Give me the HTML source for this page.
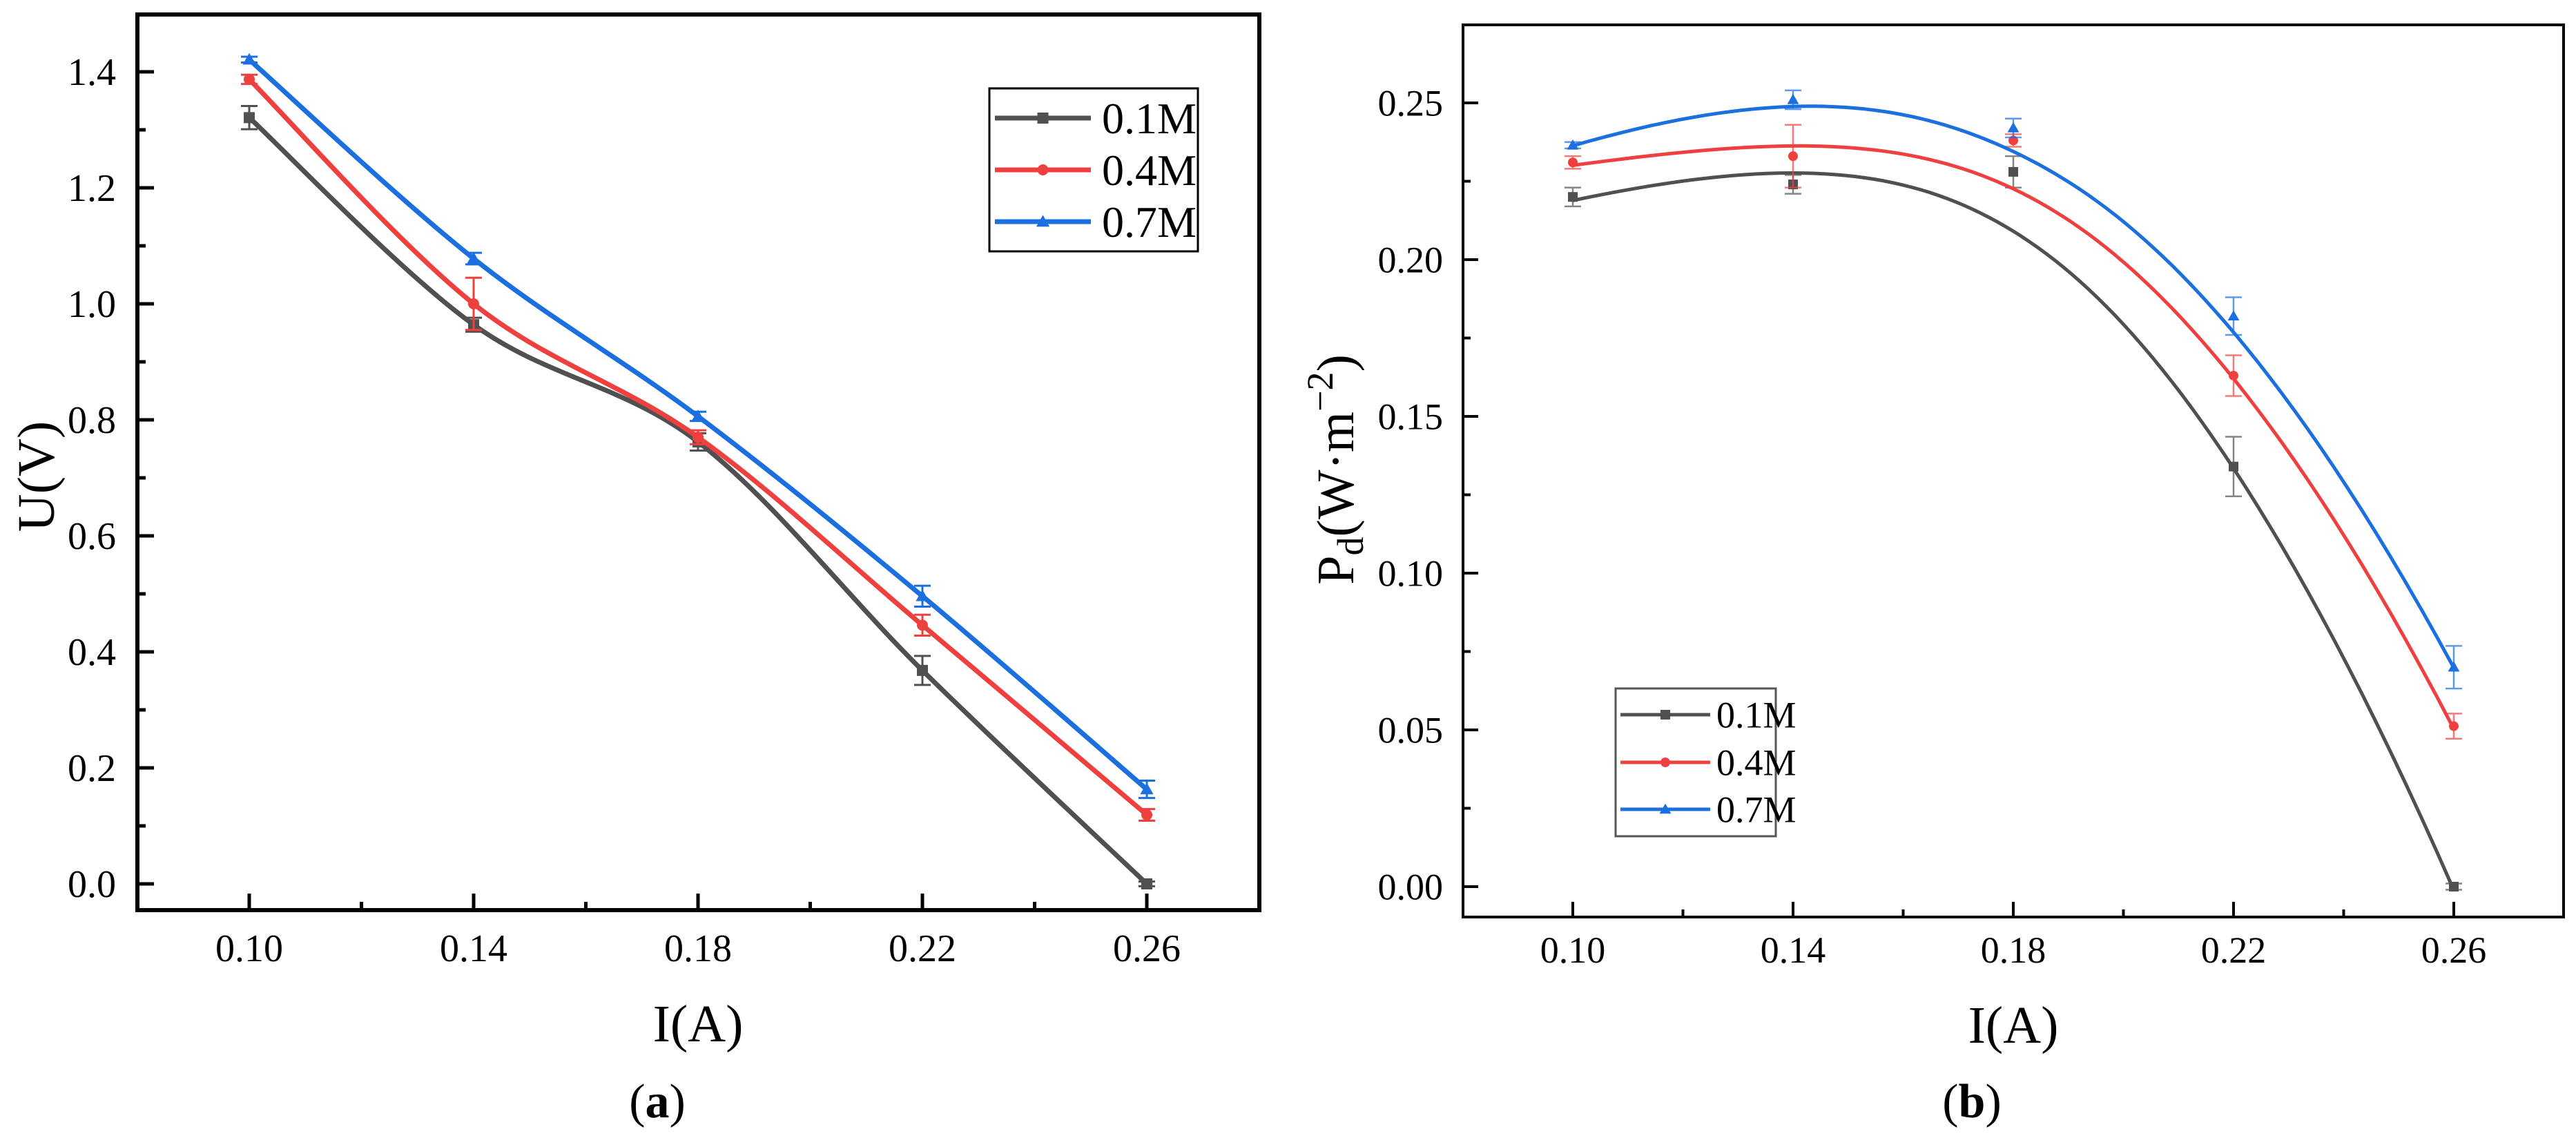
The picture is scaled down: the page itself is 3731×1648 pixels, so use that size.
<!DOCTYPE html>
<html><head><meta charset="utf-8">
<style>
html,body{margin:0;padding:0;background:#fff;}
svg, svg text, svg tspan{font-family:"Liberation Serif",serif !important;}
svg{display:block;}
</style></head>
<body>
<svg id="fig" width="3731" height="1648" viewBox="0 0 3731 1648" xmlns="http://www.w3.org/2000/svg">
  <rect width="3731" height="1648" fill="#fff"/>
  <g id="chartA"></g>
  <g id="chartB"></g>
  <text x="1011" y="1508" font-size="76" text-anchor="middle">I(A)</text>
  <text x="952" y="1618" font-size="70" text-anchor="middle">(<tspan font-weight="bold">a</tspan>)</text>
  <text transform="translate(78,690) rotate(-90)" font-size="76" text-anchor="middle">U(V)</text>
  <text x="2916" y="1510" font-size="76" text-anchor="middle">I(A)</text>
  <text x="2856" y="1618" font-size="70" text-anchor="middle">(<tspan font-weight="bold">b</tspan>)</text>
  <text transform="translate(1960,680) rotate(-90)" font-size="76" text-anchor="middle">P<tspan font-size="54" dy="14">d</tspan><tspan dy="-14">(W·m</tspan><tspan font-size="54" dy="-30">−2</tspan><tspan dy="30">)</tspan></text>
</svg>
<script>
const NS="http://www.w3.org/2000/svg";
const categories=[0.10,0.14,0.18,0.22,0.26];
const seriesNames=["0.1M","0.4M","0.7M"];
const seriesColors=["#505050","#ef4040","#1b6fde"];
// Panel (a) U(V)
const uBlack=[1.321,0.964,0.762,0.368,0.0];
const uRed=[1.387,1.000,0.770,0.446,0.119];
const uBlue=[1.421,1.078,0.806,0.496,0.163];
const uErrBlack=[0.02,0.012,0.015,0.025,0.004];
const uErrRed=[0.008,0.045,0.012,0.018,0.01];
const uErrBlue=[0.005,0.01,0.008,0.018,0.015];
const uTicks=["0.0","0.2","0.4","0.6","0.8","1.0","1.2","1.4"];
// Panel (b) Pd
const pBlack=[0.220,0.224,0.228,0.134,0.0];
const pRed=[0.231,0.233,0.238,0.163,0.0512];
const pBlue=[0.2365,0.251,0.242,0.182,0.070];
const pErrBlack=[0.003,0.003,0.005,0.0095,0.001];
const pErrRed=[0.002,0.010,0.002,0.0065,0.004];
const pErrBlue=[0.001,0.003,0.003,0.006,0.0068];
const pTicks=["0.00","0.05","0.10","0.15","0.20","0.25"];
const xTicks=["0.10","0.14","0.18","0.22","0.26"];
const SERIF="font-family:'Liberation Serif',serif";

function el(tag,attrs,parent){const e=document.createElementNS(NS,tag);for(const k in attrs)e.setAttribute(k,attrs[k]);parent.appendChild(e);return e;}

function marker(g,kind,cx,cy,s,color){
  let m;
  if(kind===0)m=el("rect",{x:cx-s/2,y:cy-s/2,width:s,height:s,fill:color},g);
  else if(kind===1)m=el("circle",{cx:cx,cy:cy,r:s/2,fill:color},g);
  else m=el("polygon",{points:`${cx},${cy-s*0.6} ${cx-s*0.6},${cy+s*0.45} ${cx+s*0.6},${cy+s*0.45}`,fill:color},g);
  return m;
}

function catmull(pts){
  let d=`M${pts[0][0]},${pts[0][1]}`;
  for(let i=0;i<pts.length-1;i++){
    const p0=pts[Math.max(0,i-1)],p1=pts[i],p2=pts[i+1],p3=pts[Math.min(pts.length-1,i+2)];
    const c1=[p1[0]+(p2[0]-p0[0])/6,p1[1]+(p2[1]-p0[1])/6];
    const c2=[p2[0]-(p3[0]-p1[0])/6,p2[1]-(p3[1]-p1[1])/6];
    d+=` C${c1[0]},${c1[1]} ${c2[0]},${c2[1]} ${p2[0]},${p2[1]}`;
  }
  return d;
}

function polyfit(xs,ys,deg){
  const n=deg+1;const A=[];const b=[];
  for(let i=0;i<n;i++){A.push(new Array(n).fill(0));b.push(0);}
  for(let k=0;k<xs.length;k++){
    for(let i=0;i<n;i++){b[i]+=ys[k]*Math.pow(xs[k],i);for(let j=0;j<n;j++)A[i][j]+=Math.pow(xs[k],i+j);}
  }
  for(let i=0;i<n;i++){let p=i;for(let r=i+1;r<n;r++)if(Math.abs(A[r][i])>Math.abs(A[p][i]))p=r;
    [A[i],A[p]]=[A[p],A[i]];[b[i],b[p]]=[b[p],b[i]];
    for(let r=i+1;r<n;r++){const f=A[r][i]/A[i][i];for(let c=i;c<n;c++)A[r][c]-=f*A[i][c];b[r]-=f*b[i];}}
  const c=new Array(n).fill(0);
  for(let i=n-1;i>=0;i--){let s=b[i];for(let j=i+1;j<n;j++)s-=A[i][j]*c[j];c[i]=s/A[i][i];}
  return c;
}

function bspline(vals,u){
  const knots=[0,0,0,0,1,2,2,2,2];
  function N(i,k,t){
    if(k===0){ if(t===2) return (knots[i]<2&&knots[i+1]===2)?1:0; return (t>=knots[i]&&t<knots[i+1])?1:0;}
    let a=0,b=0;
    const d1=knots[i+k]-knots[i], d2=knots[i+k+1]-knots[i+1];
    if(d1>0)a=(t-knots[i])/d1*N(i,k-1,t);
    if(d2>0)b=(knots[i+k+1]-t)/d2*N(i+1,k-1,t);
    return a+b;
  }
  let s=0;for(let i=0;i<5;i++)s+=vals[i]*N(i,3,u);return s;
}

function txt(parent,attrs,content){
  const t=el("text",attrs,parent);
  t.setAttribute("style",SERIF);
  t.textContent=content;
  return t;
}

function drawPanel(cfg){
  const g=document.getElementById(cfg.id);
  const X=v=>cfg.x0+(v-0.10)/0.04*cfg.xStep;
  const Y=v=>cfg.y0-v*cfg.yScale;
  for(let i=0;i<xTicks.length;i++){
    const v=0.10+0.04*i;const x=X(v);
    const t=el("line",{x1:x,x2:x,y1:cfg.bottom,y2:cfg.bottom-cfg.tickMaj,stroke:"#000","stroke-width":cfg.tw},g);
    
    const lb=txt(g,{x:x,y:cfg.xLabY,"font-size":cfg.fs,"text-anchor":"middle"},xTicks[i]);
    
    if(i<xTicks.length-1){const xm=X(v+0.02);
      const tm=el("line",{x1:xm,x2:xm,y1:cfg.bottom,y2:cfg.bottom-cfg.tickMin,stroke:"#000","stroke-width":cfg.tw},g);
      }
  }
  for(let i=0;i<cfg.yTicks.length;i++){
    const v=parseFloat(cfg.yTicks[i]);const y=Y(v);
    const t=el("line",{x1:cfg.left,x2:cfg.left+cfg.tickMaj,y1:y,y2:y,stroke:"#000","stroke-width":cfg.tw},g);
    
    const lb=txt(g,{x:cfg.yLabX,y:y+cfg.fs*0.34,"font-size":cfg.fs,"text-anchor":"end"},cfg.yTicks[i]);
    
    if(i<cfg.yTicks.length-1){const ym=Y(v+cfg.yStep/2);
      const tm=el("line",{x1:cfg.left,x2:cfg.left+cfg.tickMin,y1:ym,y2:ym,stroke:"#000","stroke-width":cfg.tw},g);
      }
  }
  cfg.series.forEach((s,si)=>{
    const sg=el("g",{},g);
    
    
    let d;
    if(cfg.fit){
      const c=polyfit(categories.map(v=>(v-0.18)*10),s.v,3);
      const pts=[];
      for(let k=0;k<=80;k++){
        const u=2*k/80;
        const v=bspline(categories,u);
        const yb=bspline(s.v,u);
        const w=(v-0.18)*10;let yp=0;for(let j=0;j<c.length;j++)yp+=c[j]*Math.pow(w,j);
        pts.push([X(v),Y((yb+yp)/2)]);
      }
      d="M"+pts.map(p=>p[0].toFixed(1)+","+p[1].toFixed(1)).join(" L");
    } else d=catmull(categories.map((v,k)=>[X(v),Y(s.v[k])]));
    const ln=el("path",{d:d,fill:"none",stroke:seriesColors[si],"stroke-width":cfg.lw,"stroke-linejoin":"round"},sg);
    
    categories.forEach((v,k)=>{
      const x=X(v),y1=Y(s.v[k]+s.e[k]),y2=Y(s.v[k]-s.e[k]);
      const eb=el("path",{d:`M${x-cfg.cap},${y1} H${x+cfg.cap} M${x},${y1} V${y2} M${x-cfg.cap},${y2} H${x+cfg.cap}`,stroke:seriesColors[si],"stroke-width":cfg.ew,fill:"none",opacity:cfg.eo},sg);
      
      const m=marker(sg,si,x,Y(s.v[k]),cfg.ms,seriesColors[si]);
      
    });
  });
  const fr=el("rect",{x:cfg.left,y:cfg.top,width:cfg.right-cfg.left,height:cfg.bottom-cfg.top,fill:"none",stroke:"#000","stroke-width":cfg.fw},g);
  
  const L=cfg.leg;
  const lg=el("g",{},g);
  
  el("rect",{x:L.x,y:L.y,width:L.w,height:L.h,fill:"#fff",stroke:cfg.legStroke,"stroke-width":L.sw},lg);
  seriesNames.forEach((n,si)=>{
    const ey=L.rows[si];
    const eg=el("g",{},lg);
    
    el("line",{x1:L.lx1,x2:L.lx2,y1:ey,y2:ey,stroke:seriesColors[si],"stroke-width":cfg.lw},eg);
    marker(eg,si,(L.lx1+L.lx2)/2,ey,cfg.ms,seriesColors[si]);
    txt(eg,{x:L.tx,y:ey+L.fs*0.34,"font-size":L.fs},n);
  });
}

drawPanel({id:"chartA",left:199,right:1824,top:21,bottom:1318,x0:361,xStep:325,y0:1280,yScale:840,yStep:0.2,
  yTicks:uTicks,xLabY:1392,yLabX:168,fs:56,tw:5,fw:6,tickMaj:24,tickMin:12,lw:7,ew:3,cap:12,eo:1,ms:16,fit:false,
  series:[{v:uBlack,e:uErrBlack},{v:uRed,e:uErrRed},{v:uBlue,e:uErrBlue}],legStroke:"#000",
  leg:{x:1433,y:128,w:302,h:236,sw:3,lx1:1441,lx2:1580,tx:1596,fs:64,rows:[171,246,321]}});
drawPanel({id:"chartB",left:2119,right:3713,top:36,bottom:1328,x0:2278,xStep:319,y0:1284,yScale:4540,yStep:0.05,
  yTicks:pTicks,xLabY:1394,yLabX:2090,fs:54,tw:4,fw:4,tickMaj:22,tickMin:11,lw:5,ew:2.5,cap:12,eo:0.7,ms:14,fit:true,
  series:[{v:pBlack,e:pErrBlack},{v:pRed,e:pErrRed},{v:pBlue,e:pErrBlue}],legStroke:"#555",
  leg:{x:2340,y:997,w:232,h:214,sw:3,lx1:2347,lx2:2477,tx:2486,fs:54,rows:[1035,1104,1172]}});
</script>
</body></html>
